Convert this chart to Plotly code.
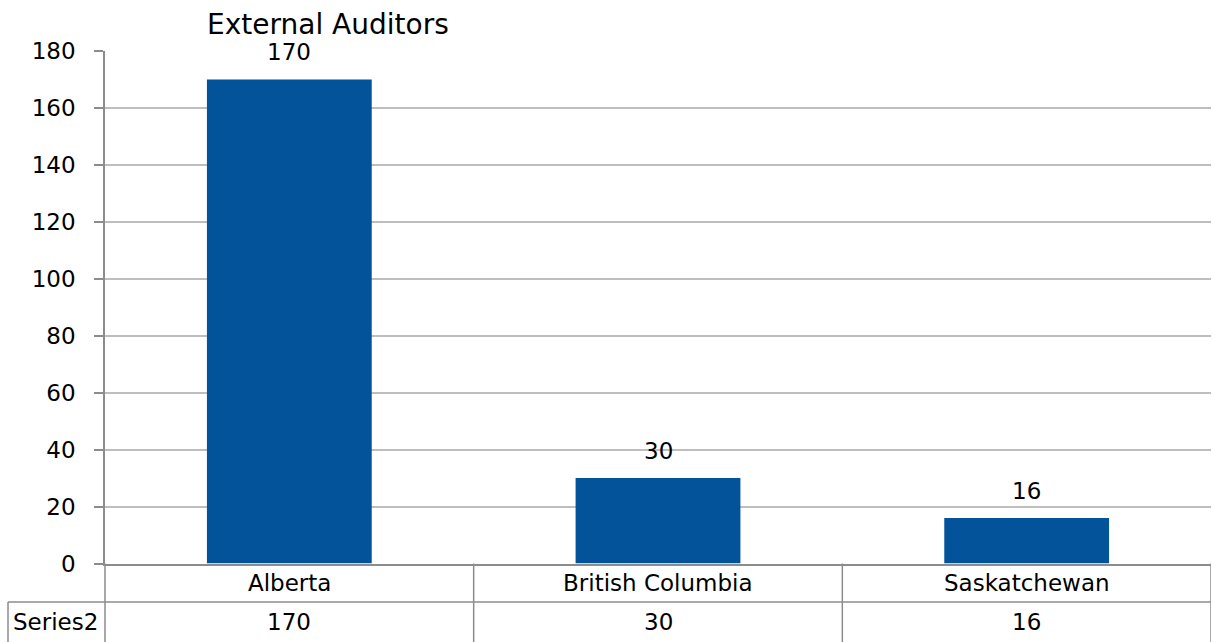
import plotly.graph_objects as go

categories = ["Alberta", "British Columbia", "Saskatchewan"]
series_name = "Series2"
values = [170, 30, 16]
title_text = "External Auditors"
y_ticks = [0, 20, 40, 60, 80, 100, 120, 140, 160, 180]

W, H = 1213, 642
FONT = "DejaVu Sans"
BAR = "#02539A"
GRID = "#BEBEBE"
LINE = "#8C8C8C"
FS = 23

def px(x):
    return x / W

def py(y):
    return 1 - y / H

x_left, x_right = 105, 1211
y_zero, y_top = 563.5, 51
row_mid = 602
y_bot = 641.5

fig = go.Figure()
fig.add_trace(go.Bar(
    x=list(range(len(categories))), y=values,
    marker=dict(color=BAR, line=dict(width=0)),
    width=0.447, cliponaxis=False, showlegend=False, hoverinfo="skip",
))

fig.update_layout(
    width=W, height=H,
    margin=dict(l=0, r=0, t=0, b=0, pad=0),
    paper_bgcolor="white", plot_bgcolor="white",
    font=dict(family=FONT, size=FS, color="black"),
    showlegend=False,
    xaxis=dict(domain=[px(x_left), px(x_right)], range=[-0.5, len(categories) - 0.5],
               showticklabels=False, showgrid=False, zeroline=False, automargin=False,
               showline=True, linecolor=LINE, linewidth=1.5, ticks=""),
    yaxis=dict(domain=[py(y_zero), py(y_top)], range=[0, 180], automargin=False,
               tickvals=y_ticks, showgrid=True, gridcolor=GRID, gridwidth=1.5,
               zeroline=False, showline=True, linecolor=LINE, linewidth=1.5,
               ticks="outside", ticklen=9, tickcolor=LINE, tickwidth=1.5, ticklabelstandoff=14,
               tickfont=dict(family=FONT, size=FS)),
)

annotations = []
annotations.append(dict(text=title_text, x=px(328), y=py(25), xref="paper", yref="paper",
                        xanchor="center", yanchor="middle", showarrow=False,
                        font=dict(family=FONT, size=28)))
for i, (c, v) in enumerate(zip(categories, values)):
    annotations.append(dict(text=str(v), x=i, y=v, xref="x", yref="y",
                            xanchor="center", yanchor="bottom", yshift=12, showarrow=False,
                            font=dict(family=FONT, size=FS)))
    annotations.append(dict(text=c, x=i, y=py((y_zero + row_mid) / 2), xref="x", yref="paper",
                            xanchor="center", yanchor="middle", showarrow=False,
                            font=dict(family=FONT, size=FS)))
    annotations.append(dict(text=str(v), x=i, y=py((row_mid + y_bot) / 2), xref="x", yref="paper",
                            xanchor="center", yanchor="middle", showarrow=False,
                            font=dict(family=FONT, size=FS)))
annotations.append(dict(text=series_name, x=px(55), y=py((row_mid + y_bot) / 2), xref="paper", yref="paper",
                        xanchor="center", yanchor="middle", showarrow=False,
                        font=dict(family=FONT, size=FS)))
fig.update_layout(annotations=annotations)

shapes = []
ln = dict(color=LINE, width=1.5)
shapes.append(dict(type="line", xref="paper", yref="paper", x0=px(x_left), x1=px(x_left),
                   y0=py(y_zero), y1=py(y_bot + 1), line=ln))
shapes.append(dict(type="line", xref="paper", yref="paper", x0=px(8), x1=px(x_right),
                   y0=py(row_mid), y1=py(row_mid), line=ln))
shapes.append(dict(type="line", xref="paper", yref="paper", x0=px(8), x1=px(8),
                   y0=py(row_mid), y1=py(y_bot + 1), line=ln))
for b in [i + 0.5 for i in range(len(categories))]:
    shapes.append(dict(type="line", xref="x", yref="paper", x0=b, x1=b,
                       y0=py(y_zero), y1=py(y_bot + 1), line=ln))
fig.update_layout(shapes=shapes)

fig.write_html("out.html", config={"displayModeBar": False},
               post_script="document.body.style.margin='0';document.body.style.overflow='hidden';")
